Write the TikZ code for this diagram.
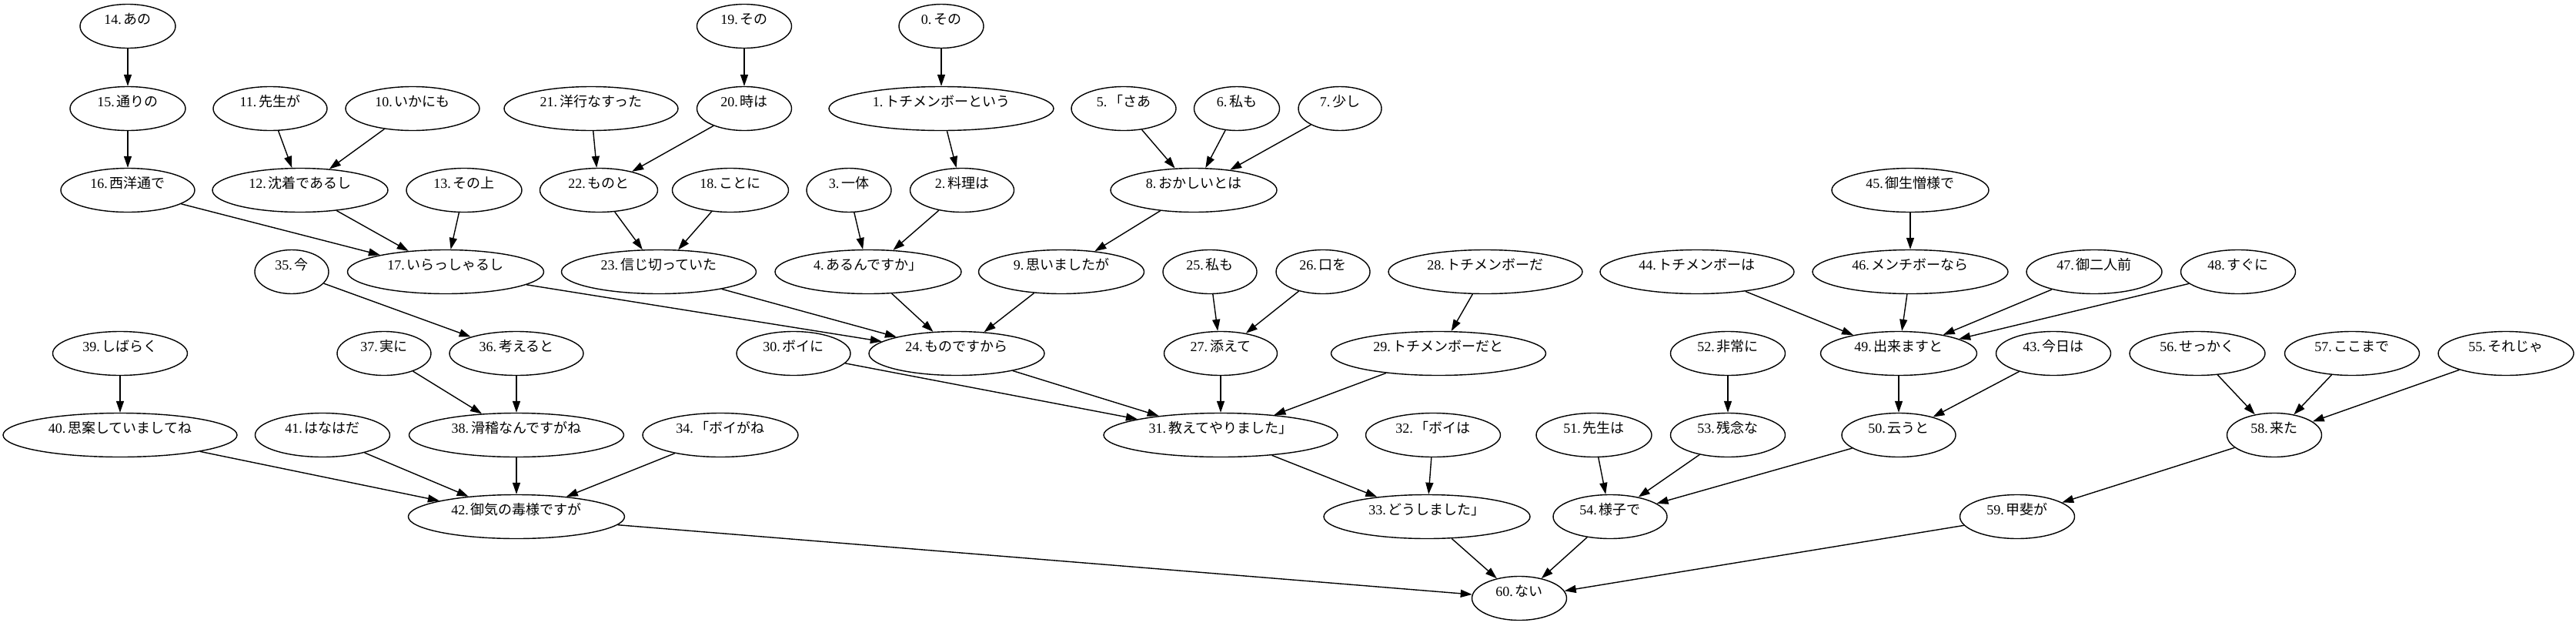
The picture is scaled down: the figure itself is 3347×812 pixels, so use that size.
\documentclass[tikz,border=0pt]{standalone}
\usepackage{fontspec}
\setmainfont{Liberation Serif}
\newfontfamily\jp{Noto Sans CJK JP}
\usetikzlibrary{shapes.geometric,arrows.meta}
\newcommand{\lb}[2]{#1.\,{\jp #2}}
\begin{document}
\begin{tikzpicture}[x=1pt,y=-1pt,
  nd/.style={ellipse,draw,line width=1.4pt,minimum height=57pt,inner sep=1pt,
    font=\fontsize{18}{20}\selectfont,text height=13pt,text depth=18pt},
  ar/.style={-{Triangle[length=15pt,width=10pt]},line width=1.4pt}]
\useasboundingbox[fill=white] (0,0) rectangle (3347,812);
% row 0
\node[nd,minimum width=124pt] (n14) at (166,34) {\lb{14}{あの}};
\node[nd,minimum width=123pt] (n19) at (967,34) {\lb{19}{その}};
\node[nd,minimum width=110pt] (n0) at (1223,34) {\lb{0}{その}};
% row 1
\node[nd,minimum width=150pt] (n15) at (166,141) {\lb{15}{通りの}};
\node[nd,minimum width=148pt] (n11) at (351,141) {\lb{11}{先生が}};
\node[nd,minimum width=174pt] (n10) at (536,141) {\lb{10}{いかにも}};
\node[nd,minimum width=226pt] (n21) at (768,141) {\lb{21}{洋行なすった}};
\node[nd,minimum width=123pt] (n20) at (967,141) {\lb{20}{時は}};
\node[nd,minimum width=292pt] (n1) at (1223,141) {\lb{1}{トチメンボーという}};
\node[nd,minimum width=136pt] (n5) at (1460,141) {\lb{5}{「さあ}};
\node[nd,minimum width=111pt] (n6) at (1607,141) {\lb{6}{私も}};
\node[nd,minimum width=108pt] (n7) at (1741,141) {\lb{7}{少し}};
% row 2
\node[nd,minimum width=174pt] (n16) at (166,247) {\lb{16}{西洋通で}};
\node[nd,minimum width=228pt] (n12) at (390,247) {\lb{12}{沈着であるし}};
\node[nd,minimum width=150pt] (n13) at (603,247) {\lb{13}{その上}};
\node[nd,minimum width=153pt] (n22) at (778,247) {\lb{22}{ものと}};
\node[nd,minimum width=151pt] (n18) at (949,247) {\lb{18}{ことに}};
\node[nd,minimum width=110pt] (n3) at (1103,247) {\lb{3}{一体}};
\node[nd,minimum width=135pt] (n2) at (1250,247) {\lb{2}{料理は}};
\node[nd,minimum width=216pt] (n8) at (1551,247) {\lb{8}{おかしいとは}};
\node[nd,minimum width=204pt] (n45) at (2482,247) {\lb{45}{御生憎様で}};
% row 3
\node[nd,minimum width=96pt] (n35) at (379,353) {\lb{35}{今}};
\node[nd,minimum width=255pt] (n17) at (579,353) {\lb{17}{いらっしゃるし}};
\node[nd,minimum width=253pt] (n23) at (856,353) {\lb{23}{信じ切っていた}};
\node[nd,minimum width=242pt] (n4) at (1128,353) {\lb{4}{あるんですか」}};
\node[nd,minimum width=215pt] (n9) at (1379,353) {\lb{9}{思いましたが}};
\node[nd,minimum width=122pt] (n25) at (1572,353) {\lb{25}{私も}};
\node[nd,minimum width=122pt] (n26) at (1719,353) {\lb{26}{口を}};
\node[nd,minimum width=252pt] (n28) at (1930,353) {\lb{28}{トチメンボーだ}};
\node[nd,minimum width=252pt] (n44) at (2205,353) {\lb{44}{トチメンボーは}};
\node[nd,minimum width=254pt] (n46) at (2482,353) {\lb{46}{メンチボーなら}};
\node[nd,minimum width=176pt] (n47) at (2721,353) {\lb{47}{御二人前}};
\node[nd,minimum width=149pt] (n48) at (2908,353) {\lb{48}{すぐに}};
% row 4
\node[nd,minimum width=175pt] (n39) at (156,459) {\lb{39}{しばらく}};
\node[nd,minimum width=122pt] (n37) at (499,459) {\lb{37}{実に}};
\node[nd,minimum width=174pt] (n36) at (671,459) {\lb{36}{考えると}};
\node[nd,minimum width=148pt] (n30) at (1031,459) {\lb{30}{ボイに}};
\node[nd,minimum width=228pt] (n24) at (1243,459) {\lb{24}{ものですから}};
\node[nd,minimum width=147pt] (n27) at (1586,459) {\lb{27}{添えて}};
\node[nd,minimum width=279pt] (n29) at (1869,459) {\lb{29}{トチメンボーだと}};
\node[nd,minimum width=149pt] (n52) at (2245,459) {\lb{52}{非常に}};
\node[nd,minimum width=203pt] (n49) at (2467,459) {\lb{49}{出来ますと}};
\node[nd,minimum width=149pt] (n43) at (2668,459) {\lb{43}{今日は}};
\node[nd,minimum width=176pt] (n56) at (2855,459) {\lb{56}{せっかく}};
\node[nd,minimum width=175pt] (n57) at (3056,459) {\lb{57}{ここまで}};
\node[nd,minimum width=176pt] (n55) at (3256,459) {\lb{55}{それじゃ}};
% row 5
\node[nd,minimum width=304pt] (n40) at (156,565) {\lb{40}{思案していましてね}};
\node[nd,minimum width=175pt] (n41) at (419,565) {\lb{41}{はなはだ}};
\node[nd,minimum width=279pt] (n38) at (671,565) {\lb{38}{滑稽なんですがね}};
\node[nd,minimum width=202pt] (n34) at (936,565) {\lb{34}{「ボイがね}};
\node[nd,minimum width=304pt] (n31) at (1586,565) {\lb{31}{教えてやりました」}};
\node[nd,minimum width=175pt] (n32) at (1862,565) {\lb{32}{「ボイは}};
\node[nd,minimum width=150pt] (n51) at (2071,565) {\lb{51}{先生は}};
\node[nd,minimum width=149pt] (n53) at (2245,565) {\lb{53}{残念な}};
\node[nd,minimum width=148pt] (n50) at (2467,565) {\lb{50}{云うと}};
\node[nd,minimum width=123pt] (n58) at (2955,565) {\lb{58}{来た}};
% row 6
\node[nd,minimum width=281pt] (n42) at (671,671) {\lb{42}{御気の毒様ですが}};
\node[nd,minimum width=268pt] (n33) at (1854,671) {\lb{33}{どうしました」}};
\node[nd,minimum width=148pt] (n54) at (2092,671) {\lb{54}{様子で}};
\node[nd,minimum width=149pt] (n59) at (2621,671) {\lb{59}{甲斐が}};
% row 7
\node[nd,minimum width=123pt] (n60) at (1974,777) {\lb{60}{ない}};
% edges
\foreach \a/\b in {14/15,15/16,16/17,11/12,10/12,12/17,13/17,17/24,19/20,20/22,21/22,22/23,18/23,23/24,
  0/1,1/2,2/4,3/4,4/24,5/8,6/8,7/8,8/9,9/24,24/31,25/27,26/27,27/31,28/29,29/31,30/31,31/33,32/33,33/60,
  35/36,36/38,37/38,38/42,39/40,40/42,41/42,34/42,42/60,45/46,46/49,44/49,47/49,48/49,49/50,43/50,50/54,
  52/53,53/54,51/54,54/60,56/58,57/58,55/58,58/59,59/60}
  \draw[ar] (n\a) -- (n\b);
\end{tikzpicture}
\end{document}
